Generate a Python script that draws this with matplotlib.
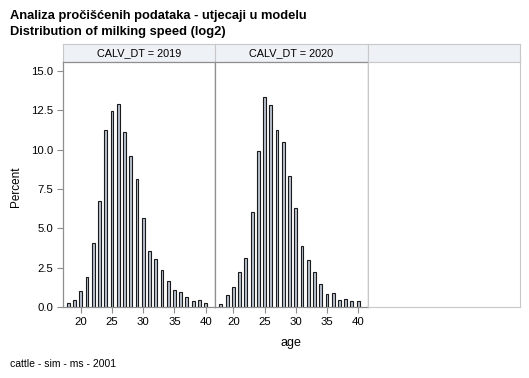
import matplotlib
matplotlib.use('Agg')
import matplotlib.pyplot as plt
import numpy as np

plt.rcParams['font.family'] = ['Liberation Sans', 'DejaVu Sans']

ages = list(range(18, 41))
pct_2019 = [0.28, 0.47, 1.0, 1.93, 4.07, 6.74, 11.25, 12.48, 12.9, 11.12, 9.58, 8.14,
            5.64, 3.58, 3.03, 2.38, 1.63, 1.08, 0.93, 0.66, 0.41, 0.43, 0.28]
pct_2020 = [0.21, 0.74, 1.27, 2.22, 3.14, 6.04, 9.94, 13.37, 12.84, 11.25, 10.49, 8.31,
            6.29, 3.88, 3.01, 2.22, 1.48, 0.81, 0.87, 0.42, 0.51, 0.40, 0.40]
panel_titles = ['CALV_DT = 2019', 'CALV_DT = 2020', '']
yticks = [0.0, 2.5, 5.0, 7.5, 10.0, 12.5, 15.0]
xticks = [20, 25, 30, 35, 40]

W, H = 529, 378
fig = plt.figure(figsize=(W / 100, H / 100), dpi=100)


def box(x0, y0, x1, y1):
    # pixel box -> figure fraction
    return [x0 / W, 1 - y1 / H, (x1 - x0) / W, (y1 - y0) / H]


edges = [62.7, 215.3, 367.8, 520]
top_strip, top_plot, bottom = 44, 61.5, 307
light = '#c8c8c8'
dark = '#8e8e8e'
series = [pct_2019, pct_2020, None]

for i in range(3):
    # header strip
    hx = fig.add_axes(box(edges[i], top_strip, edges[i + 1], top_plot))
    hx.set_facecolor('#eef1f6')
    hx.set_xticks([])
    hx.set_yticks([])
    for s in hx.spines.values():
        s.set_color(light)
        s.set_linewidth(0.8)
    hx.text(0.5, 0.5, panel_titles[i], ha='center', va='center', fontsize=7.8)

    ax = fig.add_axes(box(edges[i], top_plot, edges[i + 1], bottom))
    ax.set_xlim(17.1, 41.55)
    ax.set_ylim(0, 15.6)
    data = series[i]
    if data is None:
        ax.set_xticks([])
        ax.set_yticks([])
        for s in ax.spines.values():
            s.set_color(light)
            s.set_linewidth(0.8)
        continue
    ax.bar(ages, data, width=0.46, color='#b9c2cf', edgecolor='#1a1a1a', linewidth=0.8)
    for s in ax.spines.values():
        s.set_color(dark)
        s.set_linewidth(0.9)
    ax.set_xticks(xticks)
    ax.tick_params(axis='both', colors='#8e8e8e', labelcolor='black', labelsize=8.2,
                   length=4, width=0.8, direction='out', pad=3)
    if i == 0:
        ax.set_yticks(yticks)
        ax.set_yticklabels(['%.1f' % v for v in yticks])
    else:
        ax.set_yticks([])

fig.text(10 / W, 1 - 15.5 / H, 'Analiza pročišćenih podataka - utjecaji u modelu',
         fontsize=9.3, fontweight='bold', va='center', ha='left')
fig.text(10 / W, 1 - 32 / H, 'Distribution of milking speed (log2)',
         fontsize=9.3, fontweight='bold', va='center', ha='left')
fig.text(291 / W, 1 - 343 / H, 'age', fontsize=9, ha='center', va='center')
fig.text(16 / W, 1 - 187 / H, 'Percent', fontsize=8.5, ha='center', va='center', rotation=90)
fig.text(10 / W, 1 - 364 / H, 'cattle - sim - ms - 2001', fontsize=7.5, ha='left', va='center')

fig.savefig('out.png', dpi=100)
